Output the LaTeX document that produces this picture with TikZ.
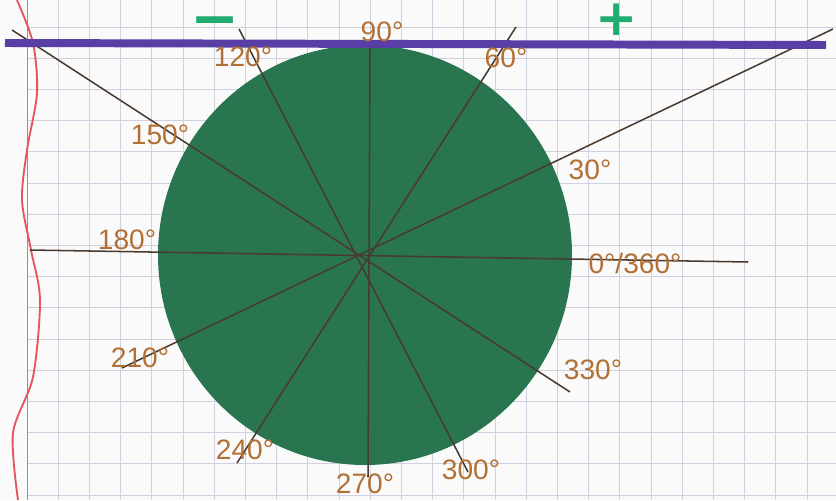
\documentclass[tikz,border=0pt]{standalone}
\usepackage{fontspec}
\setmainfont{Liberation Sans}
\newfontfamily\signfont{DejaVu Sans}
\usepackage{tikz}
\usetikzlibrary{positioning}
\definecolor{paperwhite}{RGB}{250,250,250}
\definecolor{feltgreen}{RGB}{40,117,80}
\definecolor{markerpurple}{RGB}{88,62,165}
\definecolor{marginred}{RGB}{228,86,90}
\definecolor{marginblue}{RGB}{140,140,196}
\definecolor{gridblue}{RGB}{208,208,224}
\definecolor{inkbrown}{RGB}{74,58,46}
\definecolor{penorange}{RGB}{178,112,52}
\definecolor{signgreen}{RGB}{32,172,112}

\begin{document}
\begin{tikzpicture}[x=0.03cm, y=-0.03cm,
    gridline/.style={draw=gridblue, line width=0.6pt},
    ray/.style={draw=inkbrown, line width=1.3pt},
    angle/.style={text=penorange, font=\fontsize{24}{26}\selectfont, inner sep=1pt},
    sign/.style={text=signgreen, font=\signfont\bfseries, inner sep=0pt}
]
  \useasboundingbox[fill=paperwhite] (0,0) rectangle (836,500);

  % squared paper
  \foreach \k in {0,...,26}
    \draw[gridline] ({27+31.2*\k},0) -- ({27+31.2*\k},500);
  \foreach \k in {0,...,15}
    \draw[gridline] (27,{27+31.2*\k}) -- (836,{27+31.2*\k});
  \draw[marginblue, line width=0.8pt] (27,0) -- (27,500);
  \draw[marginred, line width=1.6pt] plot[smooth] coordinates
    {(17,0) (33,43) (37,93) (27,150) (22,200) (31,250) (40,300) (33,377) (13,433) (18,500)};

  % the disc
  \fill[feltgreen] (365,255) ellipse [x radius=207, y radius=210];

  % line ends
  \coordinate (o)    at (366,258);
  \coordinate (e0)   at (748,262);
  \coordinate (e180) at (30,250);
  \coordinate (e30)  at (833,29);
  \coordinate (e210) at (122,368);
  \coordinate (e60)  at (516,27);
  \coordinate (e240) at (237,463);
  \coordinate (e90)  at (370,45);
  \coordinate (e270) at (368,477);
  \coordinate (e120) at (239,29);
  \coordinate (e300) at (468,472);
  \coordinate (e150) at (12,30);
  \coordinate (e330) at (570,392);

  \draw[ray] (e180) -- (e0);
  \draw[ray] (e210) -- (e30);
  \draw[ray] (e240) -- (e60);
  \draw[ray] (e270) -- (e90);
  \draw[ray] (e300) -- (e120);
  \draw[ray] (e330) -- (e150);

  % horizon line and signs
  \coordinate (hl) at (5,43);
  \coordinate (hr) at (826,45);
  \draw[markerpurple, line width=6.8pt] (hl) -- (hr);
  \node[sign, font=\signfont\bfseries\fontsize{50}{50}\selectfont] (minus) at (215,28) {−};
  \node[sign, font=\signfont\bfseries\fontsize{43}{43}\selectfont] (plus)  at (617,20) {+};

  % labels
  \node[angle] (l90)  at (382,32)  {90°};
  \node[angle] (l60)  at (506,58)  {60°};
  \node[angle] (l30)  at (590,170) {30°};
  \node[angle] (l0)   at (635,263) {0°/360°};
  \node[angle] (l330) at (593,370) {330°};
  \node[angle] (l300) at (471,470) {300°};
  \node[angle] (l270) at (365,484) {270°};
  \node[angle] (l240) at (245,450) {240°};
  \node[angle] (l210) at (140,358) {210°};
  \node[angle] (l180) at (127,240) {180°};
  \node[angle] (l150) at (160,135) {150°};
  \node[angle] (l120) at (243,57)  {120°};
\end{tikzpicture}
\end{document}
